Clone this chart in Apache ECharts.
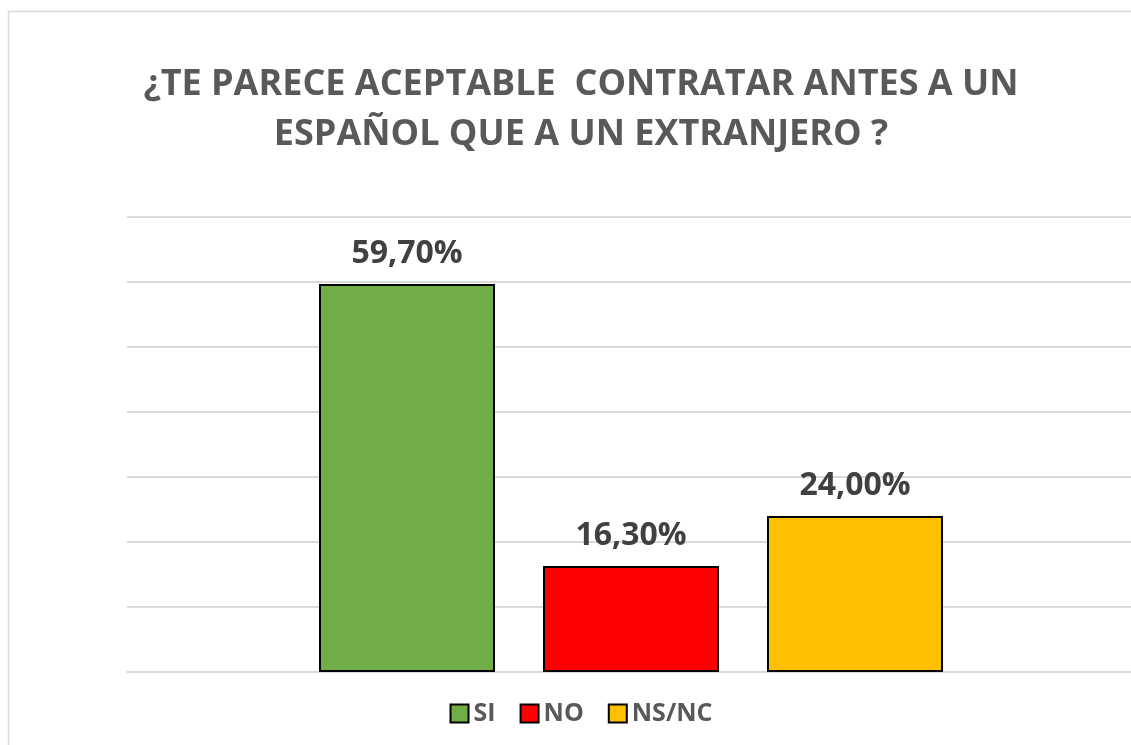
<!DOCTYPE html>
<html lang="es">
<head>
    <meta charset="UTF-8">
    <title>Contratar antes a un español</title>
    <script src="https://cdn.jsdelivr.net/npm/echarts@6/dist/echarts.min.js"></script>
    <style>
        html, body { margin: 0; padding: 0; overflow: hidden; background: #fff; }
        #chartBox { width: 1162px; height: 745px; }
    </style>
</head>
<body>
<div id="chartBox"></div>
<script type="text/javascript">
    // datos
    var seriesNames = ['SI', 'NO', 'NS/NC'];
    var seriesValues = [59.7, 16.3, 24.0];
    var yTicks = [0, 10, 20, 30, 40, 50, 60, 70];

    var barColors = ['#70ad47', '#ff0000', '#ffc000'];
    var font = '"Open Sans", "Liberation Sans", sans-serif';

    var myChart = echarts.init(document.getElementById('chartBox'));

    var series = seriesNames.map(function (name, i) {
        return {
            name: name,
            type: 'bar',
            data: [seriesValues[i]],
            barWidth: 176,
            barGap: '27.27%',
            itemStyle: { color: barColors[i], borderColor: '#000', borderWidth: 2 },
            label: {
                show: true,
                position: 'top',
                distance: 14,
                color: '#404040',
                fontFamily: font,
                fontWeight: 'bold',
                fontSize: 32,
                formatter: function (p) {
                    return p.value.toFixed(2).replace('.', ',') + '%';
                }
            }
        };
    });

    var option = {
        animation: false,
        backgroundColor: '#fff',
        title: {
            text: '¿TE PARECE ACEPTABLE  CONTRATAR ANTES A UN\nESPAÑOL QUE A UN EXTRANJERO ?',
            left: 'center',
            top: 55,
            textStyle: {
                fontFamily: font,
                fontWeight: 'bold',
                fontSize: 36,
                lineHeight: 50,
                color: '#595959'
            }
        },
        legend: {
            data: seriesNames,
            left: 'center',
            top: 696,
            icon: 'rect',
            itemWidth: 18,
            itemHeight: 18,
            itemGap: 24,
            textStyle: {
                fontFamily: font,
                fontWeight: 'bold',
                fontSize: 25,
                color: '#595959'
            }
        },
        grid: { left: 127, right: 27, top: 217, bottom: 73 },
        xAxis: {
            type: 'category',
            data: [''],
            axisLine: { lineStyle: { color: '#d9d9d9', width: 2 } },
            axisTick: { show: false },
            axisLabel: { show: false }
        },
        yAxis: {
            type: 'value',
            min: yTicks[0],
            max: yTicks[yTicks.length - 1],
            interval: yTicks[1] - yTicks[0],
            axisLine: { show: false },
            axisTick: { show: false },
            axisLabel: { show: false },
            splitLine: { lineStyle: { color: '#d9d9d9', width: 2 } }
        },
        graphic: [{
            type: 'rect',
            shape: { x: 8.5, y: 11.5, width: 1145, height: 760 },
            style: { fill: 'none', stroke: '#d9d9d9', lineWidth: 1.5 },
            silent: true,
            z: -1
        }],
        series: series
    };

    myChart.setOption(option);
</script>
</body>
</html>
